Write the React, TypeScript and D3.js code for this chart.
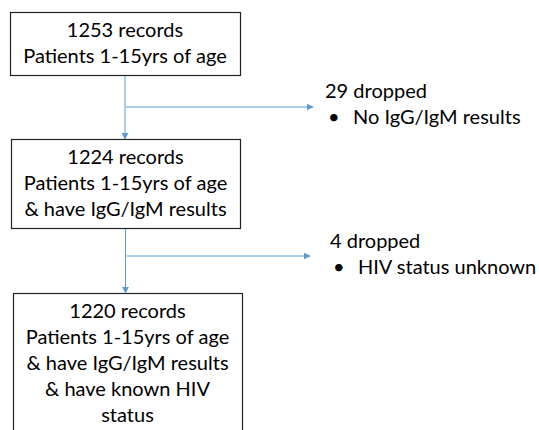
import React from "react";
import * as d3 from "d3";

const boxLines: string[][] = [
  ["1253 records", "Patients 1-15yrs of age"],
  ["1224 records", "Patients 1-15yrs of age", "& have IgG/IgM results"],
  ["1220 records", "Patients 1-15yrs of age", "& have IgG/IgM results", "& have known HIV", "status"],
];
const droppedTitles: string[] = ["29 dropped", "4 dropped"];
const droppedReasons: string[] = ["No IgG/IgM results", "HIV status unknown"];

// layout
const boxTops = [12, 139, 293];
const boxBottoms = [75, 228, 440];
const boxLefts = [10, 11, 13];
const boxRights = [240, 240, 242];
const firstBaselineOffset = 25;
const lineH = 26;
const branchY = [107, 256];
const branchEnd = [313, 310];
const dropX = [325, 330];
const dropBaseline = [98, 248];

const FONT = "Lato, 'Open Sans', sans-serif";
const BLUE = "#5b9bd5";
const FS = 20;

export default function App() {
  const W = 539, H = 430;
  const line = d3.line<[number, number]>();
  return (
    <svg width={W} height={H} style={{ position: "absolute", left: 0, top: 0, background: "#fff" }}>
      <defs>
        <marker id="arr" viewBox="0 0 10 10" refX="9" refY="5" markerWidth="7" markerHeight="7" markerUnits="userSpaceOnUse" orient="auto">
          <path d="M0,0 L10,5 L0,10 z" fill={BLUE} />
        </marker>
      </defs>
      {boxLines.map((lines, i) => {
        const cx = (boxLefts[i] + boxRights[i]) / 2;
        return (
          <g key={i}>
            <rect x={boxLefts[i] + 0.5} y={boxTops[i] + 0.5} width={boxRights[i] - boxLefts[i]} height={boxBottoms[i] - boxTops[i]} fill="#fff" stroke="#222" strokeWidth={1.2} />
            {lines.map((t, j) => (
              <text key={j} x={cx} y={boxTops[i] + firstBaselineOffset + j * lineH} textAnchor="middle" fontFamily={FONT} fontSize={FS} fill="#000">{t}</text>
            ))}
          </g>
        );
      })}
      {droppedTitles.map((t, i) => {
        const x = (boxLefts[i] + boxRights[i]) / 2;
        return (
          <g key={"d" + i}>
            <path d={line([[x, boxBottoms[i] + 1], [x, boxTops[i + 1]]]) || ""} stroke={BLUE} strokeWidth={1} fill="none" markerEnd="url(#arr)" />
            <path d={line([[x + 1, branchY[i]], [branchEnd[i], branchY[i]]]) || ""} stroke={BLUE} strokeWidth={1} fill="none" markerEnd="url(#arr)" />
            <text x={dropX[i]} y={dropBaseline[i]} fontFamily={FONT} fontSize={FS} fill="#000">{t}</text>
            <text x={dropX[i] + 3} y={dropBaseline[i] + 26} fontFamily={FONT} fontSize={FS} fill="#000">•</text>
            <text x={dropX[i] + 28} y={dropBaseline[i] + 26} fontFamily={FONT} fontSize={FS} fill="#000">{droppedReasons[i]}</text>
          </g>
        );
      })}
    </svg>
  );
}
